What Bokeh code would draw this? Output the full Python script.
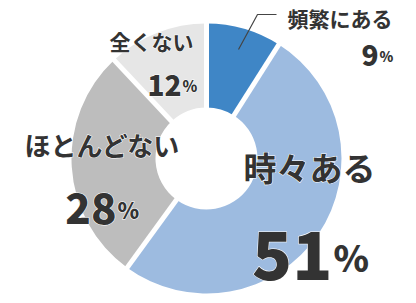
import numpy as np
from bokeh.plotting import figure
from bokeh.models import Range1d
from bokeh.core.properties import value
from bokeh.embed import file_html
from bokeh.resources import INLINE

# ---- data ----
labels = ["頻繁にある", "時々ある", "ほとんどない", "全くない"]
values = [9, 51, 28, 12]
colors = ["#3f86c6", "#9dbbe0", "#bdbdbd", "#e6e6e6"]

W, H = 416, 303
p = figure(width=W, height=H, output_backend="svg", toolbar_location=None,
           x_range=Range1d(0, W), y_range=Range1d(0, H), min_border=0)
p.axis.visible = False
p.grid.visible = False
p.outline_line_color = None
p.background_fill_color = "white"

cx, cy = 206, H - 158
r_out, r_in = 135, 51

fr = np.array(values, dtype=float) / sum(values)
cum = np.concatenate([[0], np.cumsum(fr)])
start = np.pi / 2 - cum[:-1] * 2 * np.pi
end = np.pi / 2 - cum[1:] * 2 * np.pi

p.annular_wedge(x=cx, y=cy, inner_radius=r_in, outer_radius=r_out,
                start_angle=start, end_angle=end, direction="clock",
                fill_color=colors, line_color=None)

# white separators
b = np.pi / 2 - cum[:-1] * 2 * np.pi
p.segment(x0=[cx] * len(b), y0=[cy] * len(b),
          x1=list(cx + (r_out + 3) * np.cos(b)), y1=list(cy + (r_out + 3) * np.sin(b)),
          line_color="white", line_width=5)

# leader line
p.line(x=[238, 257, 276], y=[H - 49, H - 14, H - 14], line_color="#444444", line_width=1.2)

CJK = value("Noto Sans CJK JP")
NUM = value("Noto Sans CJK JP Black")
TXT = "#333333"

# name labels: (x, y_center, align, size)
name_layout = [(392, 17, "right", "21px"), (309, 166, "center", "33px"),
               (102, 144, "center", "26px"), (193, 40, "right", "21px")]
# number labels: (x_right_of_digits, baseline_y, digit size, pct size)
num_layout = [(378, 55, "28px", "14px"), (332, 255, "66px", "36px"),
              (116, 208, "42px", "22px"), (181, 85, "28px", "15px")]


def txt(x, y, s, font, size, align, baseline):
    # white halo underneath, dark text on top
    p.text(x=[x], y=[y], text=[s], text_font=font, text_font_style="bold",
           text_font_size=size, text_align=align, text_baseline=baseline,
           text_color="white", text_outline_color="white")
    p.text(x=[x], y=[y], text=[s], text_font=font, text_font_style="bold",
           text_font_size=size, text_align=align, text_baseline=baseline,
           text_color=TXT)


for lab, v, (x, y, al, fs), (nx, ny, ds, ps) in zip(labels, values, name_layout, num_layout):
    txt(x, H - y, lab, CJK, fs, al, "middle")
    txt(nx, H - ny, str(v), NUM, ds, "right", "alphabetic")
    txt(nx + 1, H - ny, "%", NUM, ps, "left", "alphabetic")

open("out.html", "w").write(file_html(p, INLINE))
